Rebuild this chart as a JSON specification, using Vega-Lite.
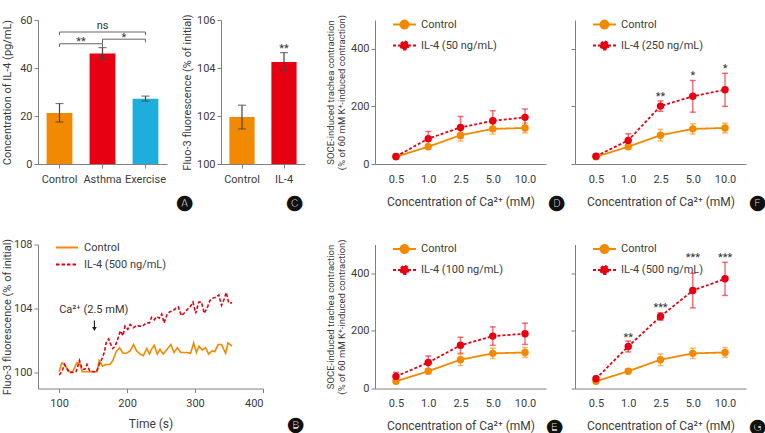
{
  "$schema": "https://vega.github.io/schema/vega-lite/v6.json",
  "padding": {"left": 1, "top": 12, "right": 0, "bottom": 0},
  "spacing": 25.5,
  "resolve": {"scale": {"color": "independent", "strokeDash": "independent", "x": "independent", "y": "independent"}, "legend": {"color": "independent", "strokeDash": "independent"}},
  "vconcat": [
    {
      "bounds": "flush",
      "spacing": 0,
      "resolve": {"scale": {"color": "independent", "strokeDash": "independent", "x": "independent", "y": "independent"}, "legend": {"color": "independent", "strokeDash": "independent"}},
      "hconcat": [
        {
          "name": "pA",
          "width": 129,
          "height": 144,
          "title": {"text": "🅐", "orient": "bottom", "anchor": "end", "frame": "group", "offset": 0, "dx": 25, "dy": 11, "fontSize": 15, "font": "DejaVu Sans", "color": "#111"},
          "layer": [
            {
              "data": {"values": [
                {"group": "Control", "mean": 21.3},
                {"group": "Asthma", "mean": 46.0},
                {"group": "Exercise", "mean": 27.2}
              ]},
              "mark": {"type": "bar"},
              "encoding": {
                "x": {"field": "group", "type": "nominal", "title": null, "scale": {"domain": ["Control", "Asthma", "Exercise"], "paddingInner": 0.4, "paddingOuter": 0.2}, "axis": {"labelAngle": 0, "tickSize": 4, "labelPadding": 5}},
                "y": {"field": "mean", "type": "quantitative", "title": "Concentration of IL-4 (pg/mL)", "scale": {"domain": [0, 60]}, "axis": {"values": [0, 20, 40, 60], "minExtent": 24, "maxExtent": 24, "titlePadding": 1.5, "labelPadding": 2}},
                "color": {"field": "group", "type": "nominal", "scale": {"domain": ["Control", "Asthma", "Exercise"], "range": ["#F18A00", "#E60012", "#1EAEDB"]}, "legend": null}
              }
            },
            {
              "data": {"values": [
                {"group": "Control", "lo": 17.5, "hi": 25.2},
                {"group": "Asthma", "lo": 43.5, "hi": 48.5},
                {"group": "Exercise", "lo": 26.2, "hi": 28.3}
              ]},
              "mark": {"type": "errorbar", "color": "#444", "thickness": 1.2, "ticks": {"size": 8}},
              "encoding": {
                "x": {"field": "group", "type": "nominal", "title": null},
                "y": {"field": "lo", "type": "quantitative", "title": "Concentration of IL-4 (pg/mL)"},
                "y2": {"field": "hi"}
              }
            },
            {
              "data": {"values": [
                {"a": "Control", "b": "Asthma", "y": 50.1},
                {"a": "Asthma", "b": "Exercise", "y": 52.0},
                {"a": "Control", "b": "Exercise", "y": 55.0}
              ]},
              "mark": {"type": "rule", "color": "#666", "strokeWidth": 1},
              "encoding": {
                "x": {"field": "a", "type": "nominal", "bandPosition": 0.5, "title": null},
                "x2": {"field": "b", "bandPosition": 0.5},
                "y": {"field": "y", "type": "quantitative", "title": "Concentration of IL-4 (pg/mL)"}
              }
            },
            {
              "data": {"values": [
                {"g": "Control", "y": 50.1, "y2": 48.8},
                {"g": "Asthma", "y": 50.1, "y2": 48.8},
                {"g": "Asthma", "y": 52.0, "y2": 50.2},
                {"g": "Exercise", "y": 52.0, "y2": 50.7},
                {"g": "Control", "y": 55.0, "y2": 53.7},
                {"g": "Exercise", "y": 55.0, "y2": 53.7}
              ]},
              "mark": {"type": "rule", "color": "#666", "strokeWidth": 1},
              "encoding": {
                "x": {"field": "g", "type": "nominal", "bandPosition": 0.5, "title": null},
                "y": {"field": "y", "type": "quantitative", "title": "Concentration of IL-4 (pg/mL)"},
                "y2": {"field": "y2"}
              }
            },
            {
              "data": {"values": [{"g": "Asthma", "t": "ns", "y": 57.5}]},
              "mark": {"type": "text", "fontSize": 11, "color": "#333"},
              "encoding": {
                "x": {"field": "g", "type": "nominal", "title": null},
                "y": {"field": "y", "type": "quantitative", "title": "Concentration of IL-4 (pg/mL)"},
                "text": {"field": "t"}
              }
            },
            {
              "data": {"values": [{"g": "Control", "t": "**", "y": 51.8}, {"g": "Asthma", "t": "*", "y": 53.7}]},
              "mark": {"type": "text", "fontSize": 11, "color": "#333", "dy": 2.5},
              "encoding": {
                "x": {"field": "g", "type": "nominal", "bandPosition": 1.333, "title": null},
                "y": {"field": "y", "type": "quantitative", "title": "Concentration of IL-4 (pg/mL)"},
                "text": {"field": "t"}
              }
            }
          ]
        },
        {"width": 54, "height": 144, "data": {"values": []}, "mark": "rule", "encoding": {}},
        {
          "name": "pC",
          "width": 84,
          "height": 144,
          "title": {"text": "🅒", "orient": "bottom", "anchor": "end", "frame": "group", "offset": 0, "dx": -3, "dy": 11, "fontSize": 15, "font": "DejaVu Sans", "color": "#111"},
          "data": {"values": [
            {"group": "Control", "mean": 101.96, "lo": 101.46, "hi": 102.45, "sig": ""},
            {"group": "IL-4", "mean": 104.25, "lo": 103.89, "hi": 104.64, "sig": "**"}
          ]},
          "layer": [
            {
              "mark": {"type": "bar"},
              "encoding": {
                "x": {"field": "group", "type": "nominal", "title": null, "scale": {"domain": ["Control", "IL-4"], "paddingInner": 0.4, "paddingOuter": 0.2}, "axis": {"labelAngle": 0, "tickSize": 4, "labelPadding": 5}},
                "y": {"field": "mean", "type": "quantitative", "title": "Fluo-3 fluorescence (% of initial)", "scale": {"domain": [100, 106], "zero": false, "nice": false}, "axis": {"values": [100, 102, 104, 106], "titlePadding": 4, "labelPadding": 2}},
                "y2": {"datum": 100},
                "color": {"field": "group", "type": "nominal", "scale": {"domain": ["Control", "IL-4"], "range": ["#F18A00", "#E60012"]}, "legend": null}
              }
            },
            {
              "mark": {"type": "errorbar", "color": "#444", "thickness": 1.2, "ticks": {"size": 8}},
              "encoding": {
                "x": {"field": "group", "type": "nominal", "title": null},
                "y": {"field": "lo", "type": "quantitative", "title": "Fluo-3 fluorescence (% of initial)"},
                "y2": {"field": "hi"}
              }
            },
            {
              "mark": {"type": "text", "fontSize": 11, "color": "#333", "baseline": "bottom", "dy": 1},
              "encoding": {
                "x": {"field": "group", "type": "nominal", "title": null},
                "y": {"field": "hi", "type": "quantitative", "title": "Fluo-3 fluorescence (% of initial)"},
                "text": {"field": "sig"}
              }
            }
          ]
        },
        {"width": 70, "height": 144, "data": {"values": []}, "mark": "rule", "encoding": {}},
        {
          "name": "pD",
          "width": 171,
          "height": 144,
          "title": {"text": "🅓", "orient": "bottom", "anchor": "end", "frame": "group", "offset": 0, "dx": 18, "dy": -12, "fontSize": 15, "font": "DejaVu Sans", "color": "#111"},
          "data": {"values": [
            {"c": 0.5, "s": "Control", "m": 25, "lo": 20, "hi": 30},
            {"c": 1, "s": "Control", "m": 60, "lo": 52, "hi": 68},
            {"c": 2.5, "s": "Control", "m": 100, "lo": 80, "hi": 120},
            {"c": 5, "s": "Control", "m": 122, "lo": 104, "hi": 140},
            {"c": 10, "s": "Control", "m": 125, "lo": 108, "hi": 142},
            {"c": 0.5, "s": "IL-4 (50 ng/mL)", "m": 26, "lo": 18, "hi": 34},
            {"c": 1, "s": "IL-4 (50 ng/mL)", "m": 88, "lo": 63, "hi": 113},
            {"c": 2.5, "s": "IL-4 (50 ng/mL)", "m": 127, "lo": 89, "hi": 165},
            {"c": 5, "s": "IL-4 (50 ng/mL)", "m": 150, "lo": 115, "hi": 185},
            {"c": 10, "s": "IL-4 (50 ng/mL)", "m": 162, "lo": 133, "hi": 191}
          ]},
          "encoding": {
            "x": {"field": "c", "type": "ordinal", "title": "Concentration of Ca²⁺ (mM)", "scale": {"type": "point", "padding": 0.65}, "axis": {"titleFontSize": 12, "titlePadding": 12, "ticks": false, "tickSize": 0, "labelPadding": 9, "labelAngle": 0, "labelExpr": "format(datum.value, '.1f')"}}
          },
          "layer": [
            {
              "mark": {"type": "line", "strokeWidth": 1.8},
              "encoding": {
                "y": {"field": "m", "type": "quantitative", "title": ["SOCE-induced trachea contraction", "(% of 60 mM K⁺-induced contraction)"], "scale": {"domain": [0, 500]}, "axis": {"values": [0, 100, 200, 300, 400, 500], "titleFontSize": 9.5, "titleLineHeight": 11.5, "titlePadding": 3.5, "labelPadding": 2}},
                "color": {"field": "s", "type": "nominal", "scale": {"domain": ["Control", "IL-4 (50 ng/mL)"], "range": ["#F18A00", "#E60012"]}, "legend": {"title": null, "orient": "none", "legendX": 17, "legendY": -8, "symbolType": "M-1,0H1M-0.35,0A0.35,0.35,0,1,0,0.35,0A0.35,0.35,0,1,0,-0.35,0", "symbolSize": 529, "symbolStrokeWidth": 1.8, "labelOffset": 4, "rowPadding": -5, "encode": {"symbols": {"update": {"fill": {"signal": "datum.value === 'Control' ? '#F18A00' : '#E60012'"}}}}}},
                "strokeDash": {"field": "s", "type": "nominal", "scale": {"domain": ["Control", "IL-4 (50 ng/mL)"], "range": [[1, 0], [3, 2]]}, "legend": {"title": null, "orient": "none", "legendX": 17, "legendY": -8, "symbolType": "M-1,0H1M-0.35,0A0.35,0.35,0,1,0,0.35,0A0.35,0.35,0,1,0,-0.35,0", "symbolSize": 529, "symbolStrokeWidth": 1.8, "labelOffset": 4, "rowPadding": -5, "encode": {"symbols": {"update": {"fill": {"signal": "datum.value === 'Control' ? '#F18A00' : '#E60012'"}}}}}}
              }
            },
            {
              "mark": {"type": "errorbar", "thickness": 1.5, "ticks": {"size": 6}, "opacity": 0.55},
              "encoding": {
                "y": {"field": "lo", "type": "quantitative", "title": ["SOCE-induced trachea contraction", "(% of 60 mM K⁺-induced contraction)"]},
                "y2": {"field": "hi"},
                "color": {"field": "s", "type": "nominal"}
              }
            },
            {
              "mark": {"type": "point", "filled": true, "size": 55, "opacity": 1},
              "encoding": {
                "y": {"field": "m", "type": "quantitative", "title": ["SOCE-induced trachea contraction", "(% of 60 mM K⁺-induced contraction)"]},
                "color": {"field": "s", "type": "nominal"}
              }
            }
          ]
        },
        {"width": 29, "height": 144, "data": {"values": []}, "mark": "rule", "encoding": {}},
        {
          "name": "pF",
          "width": 171,
          "height": 144,
          "title": {"text": "🅕", "orient": "bottom", "anchor": "end", "frame": "group", "offset": 0, "dx": 19, "dy": -12, "fontSize": 15, "font": "DejaVu Sans", "color": "#111"},
          "data": {"values": [
            {"c": 0.5, "s": "Control", "m": 25, "lo": 20, "hi": 30},
            {"c": 1, "s": "Control", "m": 60, "lo": 52, "hi": 68},
            {"c": 2.5, "s": "Control", "m": 100, "lo": 80, "hi": 120},
            {"c": 5, "s": "Control", "m": 122, "lo": 104, "hi": 140},
            {"c": 10, "s": "Control", "m": 125, "lo": 108, "hi": 142},
            {"c": 0.5, "s": "IL-4 (250 ng/mL)", "m": 27, "lo": 19, "hi": 35},
            {"c": 1, "s": "IL-4 (250 ng/mL)", "m": 82, "lo": 59, "hi": 105},
            {"c": 2.5, "s": "IL-4 (250 ng/mL)", "m": 201, "lo": 183, "hi": 219},
            {"c": 5, "s": "IL-4 (250 ng/mL)", "m": 235, "lo": 180, "hi": 290},
            {"c": 10, "s": "IL-4 (250 ng/mL)", "m": 258, "lo": 200, "hi": 315}
          ]},
          "encoding": {
            "x": {"field": "c", "type": "ordinal", "title": "Concentration of Ca²⁺ (mM)", "scale": {"type": "point", "padding": 0.65}, "axis": {"titleFontSize": 12, "titlePadding": 12, "ticks": false, "tickSize": 0, "labelPadding": 9, "labelAngle": 0, "labelExpr": "format(datum.value, '.1f')"}}
          },
          "layer": [
            {
              "mark": {"type": "line", "strokeWidth": 1.8},
              "encoding": {
                "y": {"field": "m", "type": "quantitative", "title": null, "scale": {"domain": [0, 500]}, "axis": {"values": [0, 100, 200, 300, 400, 500], "labels": false}},
                "color": {"field": "s", "type": "nominal", "scale": {"domain": ["Control", "IL-4 (250 ng/mL)"], "range": ["#F18A00", "#E60012"]}, "legend": {"title": null, "orient": "none", "legendX": 17, "legendY": -8, "symbolType": "M-1,0H1M-0.35,0A0.35,0.35,0,1,0,0.35,0A0.35,0.35,0,1,0,-0.35,0", "symbolSize": 529, "symbolStrokeWidth": 1.8, "labelOffset": 4, "rowPadding": -5, "encode": {"symbols": {"update": {"fill": {"signal": "datum.value === 'Control' ? '#F18A00' : '#E60012'"}}}}}},
                "strokeDash": {"field": "s", "type": "nominal", "scale": {"domain": ["Control", "IL-4 (250 ng/mL)"], "range": [[1, 0], [3, 2]]}, "legend": {"title": null, "orient": "none", "legendX": 17, "legendY": -8, "symbolType": "M-1,0H1M-0.35,0A0.35,0.35,0,1,0,0.35,0A0.35,0.35,0,1,0,-0.35,0", "symbolSize": 529, "symbolStrokeWidth": 1.8, "labelOffset": 4, "rowPadding": -5, "encode": {"symbols": {"update": {"fill": {"signal": "datum.value === 'Control' ? '#F18A00' : '#E60012'"}}}}}}
              }
            },
            {
              "mark": {"type": "errorbar", "thickness": 1.5, "ticks": {"size": 6}, "opacity": 0.55},
              "encoding": {
                "y": {"field": "lo", "type": "quantitative", "title": null},
                "y2": {"field": "hi", "title": null},
                "color": {"field": "s", "type": "nominal"}
              }
            },
            {
              "mark": {"type": "point", "filled": true, "size": 55, "opacity": 1},
              "encoding": {
                "y": {"field": "m", "type": "quantitative", "title": null},
                "color": {"field": "s", "type": "nominal"}
              }
            },
            {
              "data": {"values": [{"c": 2.5, "t": "**", "y": 242}, {"c": 5, "t": "*", "y": 313}, {"c": 10, "t": "*", "y": 337}]},
              "mark": {"type": "text", "fontSize": 11, "color": "#333", "dy": 2.5},
              "encoding": {
                "y": {"field": "y", "type": "quantitative", "title": null},
                "text": {"field": "t"}
              }
            }
          ]
        }
      ]
    },
    {
      "bounds": "flush",
      "spacing": 0,
      "resolve": {"scale": {"color": "independent", "strokeDash": "independent", "x": "independent", "y": "independent"}, "legend": {"color": "independent", "strokeDash": "independent"}},
      "hconcat": [
        {
          "name": "pB",
          "width": 225,
          "height": 144,
          "title": {"text": "🅑", "orient": "bottom", "anchor": "end", "frame": "group", "offset": 0, "dx": 40, "dy": -12, "fontSize": 15, "font": "DejaVu Sans", "color": "#111"},
          "layer": [
            {
              "data": {"values": [
                {"t": 100, "v": 100.05, "s": "Control"}, {"t": 104, "v": 100.6, "s": "Control"}, {"t": 108, "v": 100.5, "s": "Control"}, {"t": 112, "v": 100.25, "s": "Control"},
                {"t": 115, "v": 100.05, "s": "Control"}, {"t": 120, "v": 100.05, "s": "Control"}, {"t": 126, "v": 100.6, "s": "Control"}, {"t": 130, "v": 100.6, "s": "Control"},
                {"t": 134, "v": 100.05, "s": "Control"}, {"t": 141, "v": 100.05, "s": "Control"}, {"t": 151, "v": 100.05, "s": "Control"}, {"t": 156, "v": 100.05, "s": "Control"},
                {"t": 159, "v": 100.75, "s": "Control"}, {"t": 164, "v": 100.4, "s": "Control"}, {"t": 169, "v": 100.5, "s": "Control"}, {"t": 175, "v": 100.5, "s": "Control"},
                {"t": 179, "v": 100.75, "s": "Control"}, {"t": 184, "v": 101.3, "s": "Control"}, {"t": 189, "v": 101.55, "s": "Control"}, {"t": 194, "v": 101.2, "s": "Control"},
                {"t": 199, "v": 101.2, "s": "Control"}, {"t": 204.5, "v": 101.35, "s": "Control"}, {"t": 209.5, "v": 101.75, "s": "Control"}, {"t": 214, "v": 101.35, "s": "Control"},
                {"t": 219, "v": 101.15, "s": "Control"}, {"t": 224, "v": 101.05, "s": "Control"}, {"t": 229, "v": 101.5, "s": "Control"}, {"t": 233, "v": 101.15, "s": "Control"},
                {"t": 236, "v": 101.45, "s": "Control"}, {"t": 240, "v": 101.7, "s": "Control"}, {"t": 244.5, "v": 101.15, "s": "Control"}, {"t": 248.5, "v": 101.45, "s": "Control"},
                {"t": 253, "v": 101.15, "s": "Control"}, {"t": 258, "v": 101.4, "s": "Control"}, {"t": 264.5, "v": 101.75, "s": "Control"}, {"t": 269, "v": 101.25, "s": "Control"},
                {"t": 274, "v": 101.55, "s": "Control"}, {"t": 279, "v": 101.25, "s": "Control"}, {"t": 284, "v": 101.25, "s": "Control"}, {"t": 288.5, "v": 101.25, "s": "Control"},
                {"t": 293.5, "v": 101.2, "s": "Control"}, {"t": 298, "v": 101.85, "s": "Control"}, {"t": 302, "v": 101.25, "s": "Control"}, {"t": 306, "v": 101.65, "s": "Control"},
                {"t": 310.5, "v": 101.4, "s": "Control"}, {"t": 315.5, "v": 101.55, "s": "Control"}, {"t": 320, "v": 101.15, "s": "Control"}, {"t": 325, "v": 101.35, "s": "Control"},
                {"t": 329, "v": 101.3, "s": "Control"}, {"t": 334, "v": 101.75, "s": "Control"}, {"t": 339, "v": 101.75, "s": "Control"}, {"t": 345, "v": 101.2, "s": "Control"},
                {"t": 348.5, "v": 101.85, "s": "Control"}, {"t": 354.5, "v": 101.65, "s": "Control"},
                {"t": 100, "v": 99.85, "s": "IL-4 (500 ng/mL)"}, {"t": 104, "v": 100.05, "s": "IL-4 (500 ng/mL)"}, {"t": 108, "v": 100.5, "s": "IL-4 (500 ng/mL)"}, {"t": 112, "v": 100.2, "s": "IL-4 (500 ng/mL)"},
                {"t": 115, "v": 100.0, "s": "IL-4 (500 ng/mL)"}, {"t": 120, "v": 100.0, "s": "IL-4 (500 ng/mL)"}, {"t": 125, "v": 100.05, "s": "IL-4 (500 ng/mL)"}, {"t": 130, "v": 100.75, "s": "IL-4 (500 ng/mL)"},
                {"t": 134, "v": 100.2, "s": "IL-4 (500 ng/mL)"}, {"t": 138, "v": 100.2, "s": "IL-4 (500 ng/mL)"}, {"t": 141, "v": 100.5, "s": "IL-4 (500 ng/mL)"}, {"t": 145, "v": 100.1, "s": "IL-4 (500 ng/mL)"},
                {"t": 150, "v": 100.05, "s": "IL-4 (500 ng/mL)"}, {"t": 155, "v": 100.05, "s": "IL-4 (500 ng/mL)"}, {"t": 159, "v": 100.5, "s": "IL-4 (500 ng/mL)"}, {"t": 163, "v": 100.85, "s": "IL-4 (500 ng/mL)"},
                {"t": 166.5, "v": 101.25, "s": "IL-4 (500 ng/mL)"}, {"t": 169.5, "v": 101.9, "s": "IL-4 (500 ng/mL)"}, {"t": 173, "v": 102.1, "s": "IL-4 (500 ng/mL)"}, {"t": 175, "v": 101.85, "s": "IL-4 (500 ng/mL)"},
                {"t": 179, "v": 101.5, "s": "IL-4 (500 ng/mL)"}, {"t": 182.5, "v": 101.65, "s": "IL-4 (500 ng/mL)"}, {"t": 186, "v": 102.05, "s": "IL-4 (500 ng/mL)"}, {"t": 190, "v": 102.6, "s": "IL-4 (500 ng/mL)"},
                {"t": 194, "v": 102.3, "s": "IL-4 (500 ng/mL)"}, {"t": 197, "v": 102.9, "s": "IL-4 (500 ng/mL)"}, {"t": 201, "v": 102.7, "s": "IL-4 (500 ng/mL)"}, {"t": 204.5, "v": 103.0, "s": "IL-4 (500 ng/mL)"},
                {"t": 209.5, "v": 102.8, "s": "IL-4 (500 ng/mL)"}, {"t": 214, "v": 102.95, "s": "IL-4 (500 ng/mL)"}, {"t": 218, "v": 102.9, "s": "IL-4 (500 ng/mL)"}, {"t": 223, "v": 102.9, "s": "IL-4 (500 ng/mL)"},
                {"t": 228, "v": 103.1, "s": "IL-4 (500 ng/mL)"}, {"t": 233, "v": 103.1, "s": "IL-4 (500 ng/mL)"}, {"t": 236, "v": 103.45, "s": "IL-4 (500 ng/mL)"}, {"t": 240, "v": 103.3, "s": "IL-4 (500 ng/mL)"},
                {"t": 243.5, "v": 103.5, "s": "IL-4 (500 ng/mL)"}, {"t": 247.5, "v": 103.4, "s": "IL-4 (500 ng/mL)"}, {"t": 251, "v": 103.65, "s": "IL-4 (500 ng/mL)"}, {"t": 254.5, "v": 103.1, "s": "IL-4 (500 ng/mL)"},
                {"t": 259, "v": 103.65, "s": "IL-4 (500 ng/mL)"}, {"t": 263, "v": 103.8, "s": "IL-4 (500 ng/mL)"}, {"t": 267, "v": 103.85, "s": "IL-4 (500 ng/mL)"}, {"t": 271.5, "v": 104.0, "s": "IL-4 (500 ng/mL)"},
                {"t": 275.5, "v": 104.1, "s": "IL-4 (500 ng/mL)"}, {"t": 280, "v": 103.55, "s": "IL-4 (500 ng/mL)"}, {"t": 285, "v": 103.75, "s": "IL-4 (500 ng/mL)"}, {"t": 289, "v": 103.95, "s": "IL-4 (500 ng/mL)"},
                {"t": 293.5, "v": 104.15, "s": "IL-4 (500 ng/mL)"}, {"t": 297, "v": 104.4, "s": "IL-4 (500 ng/mL)"}, {"t": 301, "v": 103.7, "s": "IL-4 (500 ng/mL)"}, {"t": 305.5, "v": 104.4, "s": "IL-4 (500 ng/mL)"},
                {"t": 309.5, "v": 104.4, "s": "IL-4 (500 ng/mL)"}, {"t": 313.5, "v": 103.7, "s": "IL-4 (500 ng/mL)"}, {"t": 318, "v": 104.05, "s": "IL-4 (500 ng/mL)"}, {"t": 322, "v": 104.5, "s": "IL-4 (500 ng/mL)"},
                {"t": 326.5, "v": 104.65, "s": "IL-4 (500 ng/mL)"}, {"t": 330.5, "v": 104.7, "s": "IL-4 (500 ng/mL)"}, {"t": 335, "v": 104.85, "s": "IL-4 (500 ng/mL)"}, {"t": 339, "v": 104.2, "s": "IL-4 (500 ng/mL)"},
                {"t": 342.5, "v": 104.55, "s": "IL-4 (500 ng/mL)"}, {"t": 346, "v": 105.0, "s": "IL-4 (500 ng/mL)"}, {"t": 349.5, "v": 104.35, "s": "IL-4 (500 ng/mL)"}, {"t": 354.5, "v": 104.35, "s": "IL-4 (500 ng/mL)"}
              ]},
              "mark": {"type": "line", "strokeWidth": 1.6},
              "encoding": {
                "x": {"field": "t", "type": "quantitative", "title": "Time (s)", "scale": {"domain": [69, 400], "nice": false, "zero": false}, "axis": {"values": [100, 200, 300, 400], "titleFontSize": 12, "titlePadding": 10, "labelPadding": 4.5, "tickSize": 4}},
                "y": {"field": "v", "type": "quantitative", "title": "Fluo-3 fluorescence (% of initial)", "scale": {"domain": [99, 108], "nice": false, "zero": false}, "axis": {"values": [100, 102, 104, 106, 108], "minExtent": 24, "maxExtent": 24, "titlePadding": 1.5, "labelPadding": 2}},
                "color": {"field": "s", "type": "nominal", "scale": {"domain": ["Control", "IL-4 (500 ng/mL)"], "range": ["#F18A00", "#E60012"]}, "legend": {"title": null, "orient": "none", "legendX": 17, "legendY": -9, "symbolType": "stroke", "symbolSize": 484, "symbolStrokeWidth": 1.8, "labelOffset": 5, "rowPadding": -2}},
                "strokeDash": {"field": "s", "type": "nominal", "scale": {"domain": ["Control", "IL-4 (500 ng/mL)"], "range": [[1, 0], [3.5, 2]]}, "legend": {"title": null, "orient": "none", "legendX": 17, "legendY": -9, "symbolType": "stroke", "symbolSize": 484, "symbolStrokeWidth": 1.8, "labelOffset": 5, "rowPadding": -2}}
              }
            },
            {
              "data": {"values": [{"t": 151, "v": 103.9, "label": "Ca²⁺ (2.5 mM)"}]},
              "mark": {"type": "text", "fontSize": 11, "color": "#333"},
              "encoding": {
                "x": {"field": "t", "type": "quantitative", "title": "Time (s)"},
                "y": {"field": "v", "type": "quantitative", "title": "Fluo-3 fluorescence (% of initial)"},
                "text": {"field": "label"}
              }
            },
            {
              "data": {"values": [{"t": 152, "v1": 103.25, "v2": 102.8}]},
              "mark": {"type": "rule", "color": "#222", "strokeWidth": 1.2},
              "encoding": {
                "x": {"field": "t", "type": "quantitative", "title": "Time (s)"},
                "y": {"field": "v1", "type": "quantitative", "title": "Fluo-3 fluorescence (% of initial)"},
                "y2": {"field": "v2"}
              }
            },
            {
              "data": {"values": [{"t": 152, "v": 102.72}]},
              "mark": {"type": "point", "shape": "triangle-down", "filled": true, "size": 22, "color": "#222", "opacity": 1},
              "encoding": {
                "x": {"field": "t", "type": "quantitative", "title": "Time (s)"},
                "y": {"field": "v", "type": "quantitative", "title": "Fluo-3 fluorescence (% of initial)"}
              }
            }
          ]
        },
        {"width": 112, "height": 144, "data": {"values": []}, "mark": "rule", "encoding": {}},
        {
          "name": "pE",
          "width": 171,
          "height": 144,
          "title": {"text": "🅔", "orient": "bottom", "anchor": "end", "frame": "group", "offset": 0, "dx": 16, "dy": -13, "fontSize": 15, "font": "DejaVu Sans", "color": "#111"},
          "data": {"values": [
            {"c": 0.5, "s": "Control", "m": 25, "lo": 20, "hi": 30},
            {"c": 1, "s": "Control", "m": 60, "lo": 52, "hi": 68},
            {"c": 2.5, "s": "Control", "m": 100, "lo": 80, "hi": 120},
            {"c": 5, "s": "Control", "m": 122, "lo": 104, "hi": 140},
            {"c": 10, "s": "Control", "m": 125, "lo": 108, "hi": 142},
            {"c": 0.5, "s": "IL-4 (100 ng/mL)", "m": 42, "lo": 28, "hi": 56},
            {"c": 1, "s": "IL-4 (100 ng/mL)", "m": 90, "lo": 67, "hi": 113},
            {"c": 2.5, "s": "IL-4 (100 ng/mL)", "m": 150, "lo": 122, "hi": 178},
            {"c": 5, "s": "IL-4 (100 ng/mL)", "m": 182, "lo": 150, "hi": 214},
            {"c": 10, "s": "IL-4 (100 ng/mL)", "m": 190, "lo": 153, "hi": 227}
          ]},
          "encoding": {
            "x": {"field": "c", "type": "ordinal", "title": "Concentration of Ca²⁺ (mM)", "scale": {"type": "point", "padding": 0.65}, "axis": {"titleFontSize": 12, "titlePadding": 12, "ticks": false, "tickSize": 0, "labelPadding": 9, "labelAngle": 0, "labelExpr": "format(datum.value, '.1f')"}}
          },
          "layer": [
            {
              "mark": {"type": "line", "strokeWidth": 1.8},
              "encoding": {
                "y": {"field": "m", "type": "quantitative", "title": ["SOCE-induced trachea contraction", "(% of 60 mM K⁺-induced contraction)"], "scale": {"domain": [0, 500]}, "axis": {"values": [0, 100, 200, 300, 400, 500], "titleFontSize": 9.5, "titleLineHeight": 11.5, "titlePadding": 3.5, "labelPadding": 2}},
                "color": {"field": "s", "type": "nominal", "scale": {"domain": ["Control", "IL-4 (100 ng/mL)"], "range": ["#F18A00", "#E60012"]}, "legend": {"title": null, "orient": "none", "legendX": 17, "legendY": -8, "symbolType": "M-1,0H1M-0.35,0A0.35,0.35,0,1,0,0.35,0A0.35,0.35,0,1,0,-0.35,0", "symbolSize": 529, "symbolStrokeWidth": 1.8, "labelOffset": 4, "rowPadding": -5, "encode": {"symbols": {"update": {"fill": {"signal": "datum.value === 'Control' ? '#F18A00' : '#E60012'"}}}}}},
                "strokeDash": {"field": "s", "type": "nominal", "scale": {"domain": ["Control", "IL-4 (100 ng/mL)"], "range": [[1, 0], [3, 2]]}, "legend": {"title": null, "orient": "none", "legendX": 17, "legendY": -8, "symbolType": "M-1,0H1M-0.35,0A0.35,0.35,0,1,0,0.35,0A0.35,0.35,0,1,0,-0.35,0", "symbolSize": 529, "symbolStrokeWidth": 1.8, "labelOffset": 4, "rowPadding": -5, "encode": {"symbols": {"update": {"fill": {"signal": "datum.value === 'Control' ? '#F18A00' : '#E60012'"}}}}}}
              }
            },
            {
              "mark": {"type": "errorbar", "thickness": 1.5, "ticks": {"size": 6}, "opacity": 0.55},
              "encoding": {
                "y": {"field": "lo", "type": "quantitative", "title": ["SOCE-induced trachea contraction", "(% of 60 mM K⁺-induced contraction)"]},
                "y2": {"field": "hi"},
                "color": {"field": "s", "type": "nominal"}
              }
            },
            {
              "mark": {"type": "point", "filled": true, "size": 55, "opacity": 1},
              "encoding": {
                "y": {"field": "m", "type": "quantitative", "title": ["SOCE-induced trachea contraction", "(% of 60 mM K⁺-induced contraction)"]},
                "color": {"field": "s", "type": "nominal"}
              }
            }
          ]
        },
        {"width": 29, "height": 144, "data": {"values": []}, "mark": "rule", "encoding": {}},
        {
          "name": "pG",
          "width": 171,
          "height": 144,
          "title": {"text": "🅖", "orient": "bottom", "anchor": "end", "frame": "group", "offset": 0, "dx": 19, "dy": -13, "fontSize": 15, "font": "DejaVu Sans", "color": "#111"},
          "data": {"values": [
            {"c": 0.5, "s": "Control", "m": 25, "lo": 20, "hi": 30},
            {"c": 1, "s": "Control", "m": 60, "lo": 52, "hi": 68},
            {"c": 2.5, "s": "Control", "m": 100, "lo": 80, "hi": 120},
            {"c": 5, "s": "Control", "m": 122, "lo": 104, "hi": 140},
            {"c": 10, "s": "Control", "m": 125, "lo": 108, "hi": 142},
            {"c": 0.5, "s": "IL-4 (500 ng/mL)", "m": 34, "lo": 26, "hi": 42},
            {"c": 1, "s": "IL-4 (500 ng/mL)", "m": 146, "lo": 127, "hi": 165},
            {"c": 2.5, "s": "IL-4 (500 ng/mL)", "m": 250, "lo": 237, "hi": 263},
            {"c": 5, "s": "IL-4 (500 ng/mL)", "m": 340, "lo": 280, "hi": 400},
            {"c": 10, "s": "IL-4 (500 ng/mL)", "m": 381, "lo": 323, "hi": 438}
          ]},
          "encoding": {
            "x": {"field": "c", "type": "ordinal", "title": "Concentration of Ca²⁺ (mM)", "scale": {"type": "point", "padding": 0.65}, "axis": {"titleFontSize": 12, "titlePadding": 12, "ticks": false, "tickSize": 0, "labelPadding": 9, "labelAngle": 0, "labelExpr": "format(datum.value, '.1f')"}}
          },
          "layer": [
            {
              "mark": {"type": "line", "strokeWidth": 1.8},
              "encoding": {
                "y": {"field": "m", "type": "quantitative", "title": null, "scale": {"domain": [0, 500]}, "axis": {"values": [0, 100, 200, 300, 400, 500], "labels": false}},
                "color": {"field": "s", "type": "nominal", "scale": {"domain": ["Control", "IL-4 (500 ng/mL)"], "range": ["#F18A00", "#E60012"]}, "legend": {"title": null, "orient": "none", "legendX": 17, "legendY": -8, "symbolType": "M-1,0H1M-0.35,0A0.35,0.35,0,1,0,0.35,0A0.35,0.35,0,1,0,-0.35,0", "symbolSize": 529, "symbolStrokeWidth": 1.8, "labelOffset": 4, "rowPadding": -5, "encode": {"symbols": {"update": {"fill": {"signal": "datum.value === 'Control' ? '#F18A00' : '#E60012'"}}}}}},
                "strokeDash": {"field": "s", "type": "nominal", "scale": {"domain": ["Control", "IL-4 (500 ng/mL)"], "range": [[1, 0], [3, 2]]}, "legend": {"title": null, "orient": "none", "legendX": 17, "legendY": -8, "symbolType": "M-1,0H1M-0.35,0A0.35,0.35,0,1,0,0.35,0A0.35,0.35,0,1,0,-0.35,0", "symbolSize": 529, "symbolStrokeWidth": 1.8, "labelOffset": 4, "rowPadding": -5, "encode": {"symbols": {"update": {"fill": {"signal": "datum.value === 'Control' ? '#F18A00' : '#E60012'"}}}}}}
              }
            },
            {
              "mark": {"type": "errorbar", "thickness": 1.5, "ticks": {"size": 6}, "opacity": 0.55},
              "encoding": {
                "y": {"field": "lo", "type": "quantitative", "title": null},
                "y2": {"field": "hi", "title": null},
                "color": {"field": "s", "type": "nominal"}
              }
            },
            {
              "mark": {"type": "point", "filled": true, "size": 55, "opacity": 1},
              "encoding": {
                "y": {"field": "m", "type": "quantitative", "title": null},
                "color": {"field": "s", "type": "nominal"}
              }
            },
            {
              "data": {"values": [{"c": 1, "t": "**", "y": 183}, {"c": 2.5, "t": "***", "y": 287}, {"c": 5, "t": "***", "y": 461}, {"c": 10, "t": "***", "y": 461}]},
              "mark": {"type": "text", "fontSize": 11, "color": "#333", "dy": 2.5},
              "encoding": {
                "y": {"field": "y", "type": "quantitative", "title": null},
                "text": {"field": "t"}
              }
            }
          ]
        }
      ]
    }
  ],
  "config": {
    "font": "Roboto",
    "view": {"stroke": null},
    "axis": {"grid": false, "domainColor": "#808080", "tickColor": "#808080", "labelColor": "#3c3c3c", "titleColor": "#3c3c3c", "labelFontSize": 11, "titleFontSize": 11, "titleFontWeight": "normal", "tickSize": 4, "labelPadding": 3, "labelFont": "Roboto", "titleFont": "Roboto"},
    "legend": {"labelFontSize": 11, "labelColor": "#3c3c3c", "padding": 0, "labelFont": "Roboto"}
  }
}
